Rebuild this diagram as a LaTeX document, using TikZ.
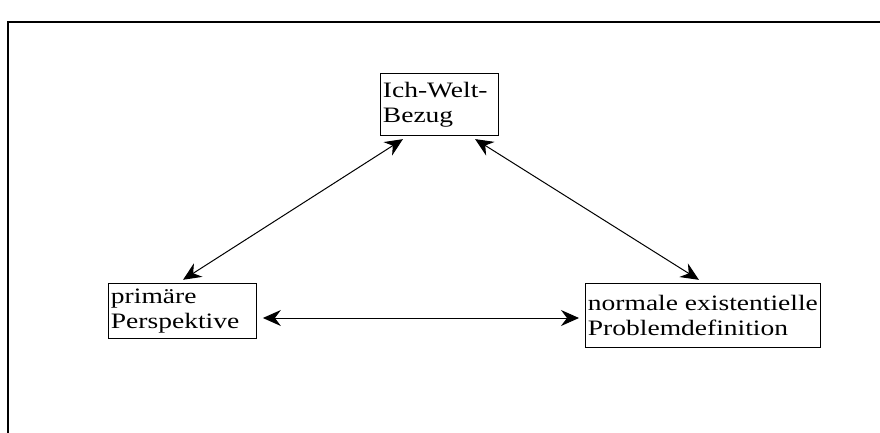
\documentclass[tikz,border=0pt]{standalone}
\usepackage{fontspec}
\setmainfont{Liberation Serif}[FakeStretch=1.25]
\usetikzlibrary{arrows.meta,calc}

\begin{document}
\begin{tikzpicture}[x=1pt, y=-1pt,
          every node/.style = {shape=rectangle, draw, line width=0.9pt, anchor=north west, align=left, inner xsep=2.5pt, inner ysep=3pt, font=\fontsize{22}{25}\selectfont},
          link/.style = {{Stealth[length=18pt,width=16pt,inset=6pt]}-{Stealth[length=18pt,width=16pt,inset=6pt]}, line width=1pt, shorten <=6pt, shorten >=6pt}]
          \clip (0,0) rectangle (880,432);
          \draw[line width=1.8pt] (8,22) rectangle (900,460);
          \node (ich) at (380,73) [text width=113pt, minimum height=62pt] {Ich-Welt-\\Bezug};
          \node (prim) at (108,283) [text width=143pt, minimum height=55pt] {primäre\\Perspektive};
          \node (norm) at (585,283) [minimum height=64pt] {normale existentielle\\Problemdefinition};
          \draw[link] ($(ich.south west)+(28,0)$) -- ($(prim.north west)+(70,0)$);
          \draw[link] ($(ich.south west)+(90,0)$) -- ($(norm.north west)+(119,0)$);
          \draw[link] ($(prim.north east)+(0,35)$) -- ($(norm.north west)+(0,35)$);
\end{tikzpicture}
\end{document}
